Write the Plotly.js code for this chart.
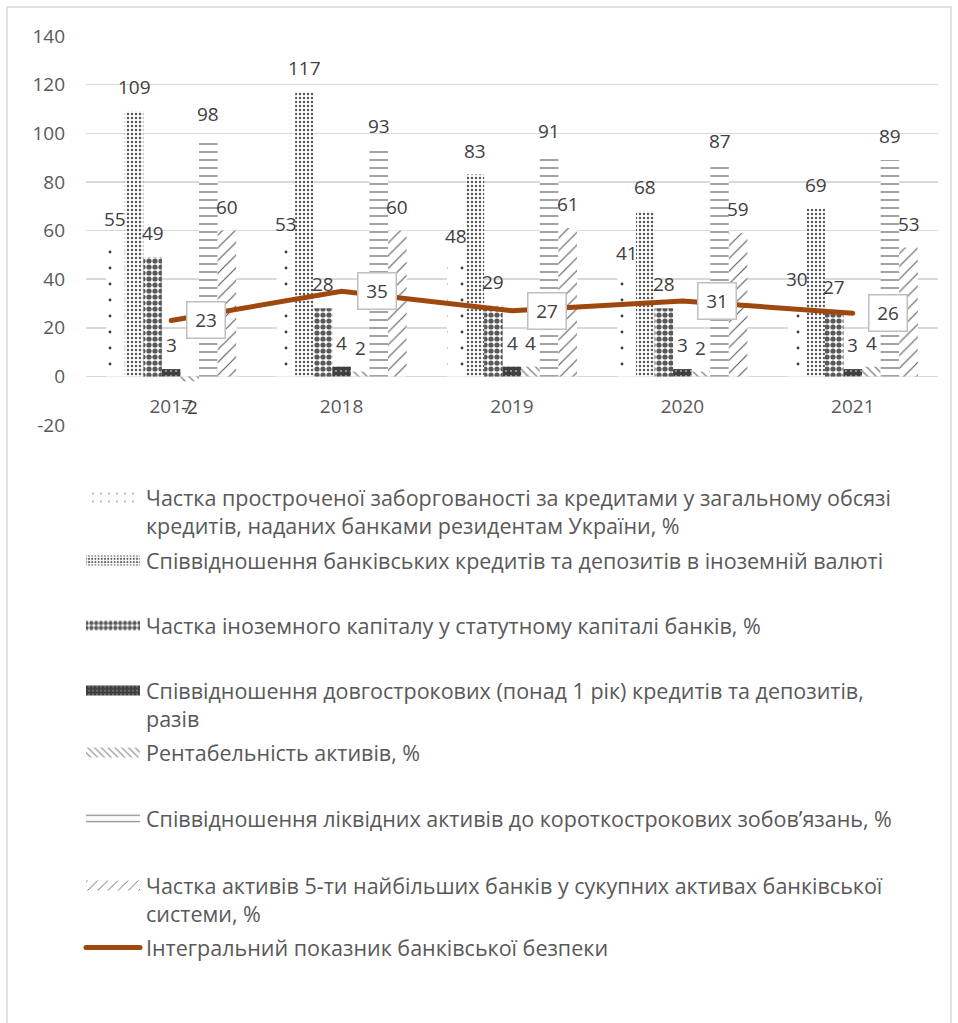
<!DOCTYPE html>
<html>
<head>
<meta charset="utf-8">
<script src="https://cdn.plot.ly/plotly-3.0.1.min.js"></script>
<style>
  html, body { margin: 0; padding: 0; background: #ffffff; }
  #chart { width: 958px; height: 1023px; }
</style>
</head>
<body>
<div id="chart"></div>
<script>
// Years on the category axis
const years = ['2017', '2018', '2019', '2020', '2021'];

// Y-axis ticks
const yTickVals = [-20, 0, 20, 40, 60, 80, 100, 120, 140];
const yTickText = ['-20', '0', '20', '40', '60', '80', '100', '120', '140'];

// Banking-security indicators (bars)
const overdueShare      = [55, 53, 48, 41, 30];
const fxLoansDeposits   = [109, 117, 83, 68, 69];
const foreignCapital    = [49, 28, 29, 28, 27];
const longTermRatio     = [3, 4, 4, 3, 3];
const returnOnAssets    = [-2, 2, 4, 2, 4];
const liquidAssetsRatio = [98, 93, 91, 87, 89];
const top5AssetsShare   = [60, 60, 61, 59, 53];

// Integral indicator (line)
const integralIndex = [23, 35, 27, 31, 26];

const seriesNames = [
  'Частка простроченої заборгованості за кредитами у загальному обсязі<br>кредитів, наданих банками резидентам України, %',
  'Співвідношення банківських кредитів та депозитів в іноземній валюті',
  'Частка іноземного капіталу у статутному капіталі банків, %',
  'Співвідношення довгострокових (понад 1 рік) кредитів та депозитів,<br>разів',
  'Рентабельність активів, %',
  'Співвідношення ліквідних активів до короткострокових зобов’язань, %',
  'Частка активів 5-ти найбільших банків у сукупних активах банківської<br>системи, %'
];
const lineName = 'Інтегральний показник банківської безпеки';

const barSeries = [overdueShare, fxLoansDeposits, foreignCapital, longTermRatio,
                   returnOnAssets, liquidAssetsRatio, top5AssetsShare];

// Fill patterns for each bar series
const patterns = [
  { shape: '.',  size: 16, solidity: 0.025, fgcolor: '#404040' },
  { shape: '.',  size: 4,  solidity: 0.3,  fgcolor: '#595959' },
  { shape: '.',  size: 6,  solidity: 0.6,  fgcolor: '#595959' },
  { shape: '.',  size: 5,  solidity: 0.85, fgcolor: '#404040' },
  { shape: '\\', size: 6,  solidity: 0.22, fgcolor: '#7F7F7F' },
  { shape: '-',  size: 8,  solidity: 0.2,  fgcolor: '#8C8C8C' },
  { shape: '/',  size: 9,  solidity: 0.12, fgcolor: '#595959' }
];

const FONT = 'Open Sans, sans-serif';
const TEXT = '#404040';
const W = 958, H = 1023;
const M = { l: 86, r: 20, t: 36, b: 598 };
const plotW = W - M.l - M.r, plotH = H - M.t - M.b;
const yMin = -20, yMax = 140;
const bargap = 0.237;
const nBars = barSeries.length;
const barPx = plotW / years.length * (1 - bargap) / nBars;

// Vertical pixel position of the first text line of each legend entry
const legendRowPx = [497, 560, 625, 690, 752, 818, 885, 947];
const legendLeftPx = 80;

const traces = [];
barSeries.forEach((vals, i) => {
  traces.push({
    type: 'bar',
    name: seriesNames[i],
    x: years,
    y: vals,
    marker: {
      color: '#ffffff',
      line: { width: 0 },
      pattern: Object.assign({ bgcolor: '#ffffff', fillmode: 'replace' }, patterns[i])
    },
    legend: i === 0 ? 'legend' : 'legend' + (i + 1),
    hoverinfo: 'skip'
  });
});
traces.push({
  type: 'scatter',
  mode: 'lines',
  name: lineName,
  x: years,
  y: integralIndex,
  line: { color: '#9E480E', width: 5 },
  legend: 'legend8',
  hoverinfo: 'skip'
});

// Value labels (x given as category index)
const annotations = [];
barSeries.forEach((vals, i) => {
  vals.forEach((v, j) => {
    annotations.push({
      x: j, y: v, xref: 'x', yref: 'y',
      xshift: (i - (nBars - 1) / 2) * barPx,
      yshift: v >= 0 ? 24 : -26,
      text: String(v), showarrow: false,
      font: { family: FONT, size: 19, color: TEXT },
      xanchor: 'center', yanchor: 'middle'
    });
  });
});
integralIndex.forEach((v, j) => {
  annotations.push({
    x: j, y: v, xref: 'x', yref: 'y',
    xshift: 35,
    text: String(v), showarrow: false,
    font: { family: FONT, size: 19, color: TEXT },
    bgcolor: '#ffffff', bordercolor: '#BFBFBF', borderwidth: 1.5,
    width: 35, height: 33, borderpad: 1,
    xanchor: 'center', yanchor: 'middle'
  });
});

const layout = {
  width: W, height: H,
  margin: M,
  paper_bgcolor: '#ffffff',
  plot_bgcolor: '#ffffff',
  barmode: 'group',
  bargap: bargap,
  bargroupgap: 0,
  font: { family: FONT, size: 19, color: TEXT },
  xaxis: {
    type: 'category',
    range: [-0.5, years.length - 0.5],
    autorange: false,
    anchor: 'free',
    position: (0 - yMin) / (yMax - yMin),
    showgrid: false, showline: false, zeroline: false,
    ticks: '',
    ticklabelstandoff: 17,
    tickfont: { family: FONT, size: 19, color: '#595959' },
    fixedrange: true
  },
  yaxis: {
    range: [yMin, yMax],
    autorange: false,
    tickmode: 'array',
    tickvals: yTickVals,
    ticktext: yTickText,
    showgrid: true, gridcolor: '#D9D9D9', gridwidth: 1.5,
    zeroline: true, zerolinecolor: '#D9D9D9', zerolinewidth: 1.5,
    showline: false, ticks: '',
    ticklabelstandoff: 20,
    tickfont: { family: FONT, size: 19, color: '#595959' },
    fixedrange: true
  },
  annotations: annotations,
  shapes: [{
    type: 'rect', xref: 'paper', yref: 'paper', layer: 'below',
    x0: (7 - M.l) / plotW, x1: (951 - M.l) / plotW,
    y0: (M.t + plotH - 1030) / plotH, y1: (M.t + plotH - 7) / plotH,
    line: { color: '#D9D9D9', width: 1.5 }, fillcolor: 'rgba(0,0,0,0)'
  }],
  showlegend: true
};

// One legend block per series, stacked below the plot
legendRowPx.forEach((py, k) => {
  const key = k === 0 ? 'legend' : 'legend' + (k + 1);
  layout[key] = {
    x: (legendLeftPx - M.l) / plotW,
    y: (M.t + plotH - (py - 20)) / plotH,
    xanchor: 'left', yanchor: 'top',
    bgcolor: 'rgba(0,0,0,0)', borderwidth: 0,
    itemwidth: 56, valign: 'top',
    font: { family: FONT, size: 21.5, color: '#595959' },
    itemclick: false, itemdoubleclick: false
  };
});

// Stretch legend swatches into wide strips; round the line ends
function widenSwatches(gd) {
  gd.querySelectorAll('.legendpoints path').forEach(p => {
    p.setAttribute('d', 'M27,5H-27V-5H27Z');
  });
  gd.querySelectorAll('.legendlines path').forEach(p => {
    if (p.getAttribute('transform')) p.setAttribute('d', 'M-27,0h54');
    else p.setAttribute('d', 'M6,0h54');
    p.style.strokeLinecap = 'round';
  });
  gd.querySelectorAll('.scatterlayer .js-line').forEach(p => {
    p.style.strokeLinecap = 'round';
  });
}

const gd = document.getElementById('chart');
Plotly.newPlot(gd, traces, layout, { staticPlot: true, displayModeBar: false }).then(() => {
  widenSwatches(gd);
  gd.on('plotly_afterplot', () => widenSwatches(gd));
});
</script>
</body>
</html>
